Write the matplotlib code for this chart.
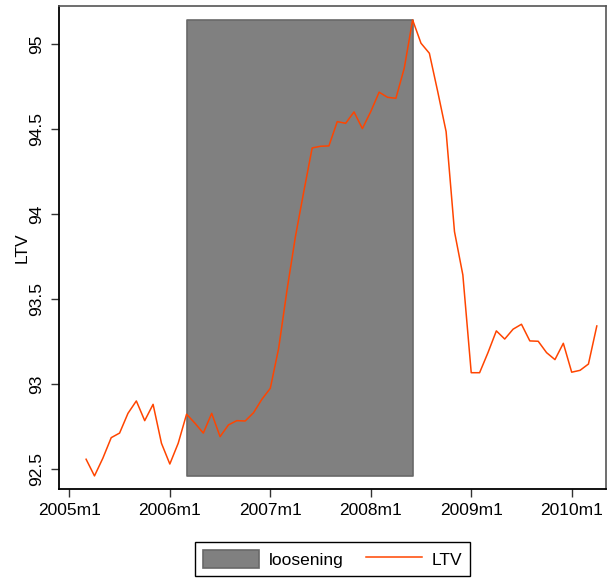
import numpy as np
import matplotlib.pyplot as plt

plt.rcParams['font.family'] = ['Liberation Sans', 'DejaVu Sans']

# monthly LTV, 2005m3 .. 2010m4
ltv = [92.559, 92.461, 92.565, 92.686, 92.713, 92.829, 92.902, 92.786, 92.882, 92.653,
       92.531, 92.653, 92.824, 92.771, 92.713, 92.829, 92.692, 92.761, 92.786, 92.784, 92.833, 92.912,
       92.976, 93.212, 93.555, 93.868, 94.133, 94.390, 94.400, 94.402, 94.545, 94.535, 94.602, 94.504,
       94.604, 94.718, 94.688, 94.682, 94.859, 95.143, 95.006, 94.947, 94.721, 94.486, 93.898, 93.643,
       93.068, 93.068, 93.186, 93.314, 93.266, 93.324, 93.353, 93.255, 93.253, 93.186, 93.145, 93.241,
       93.071, 93.082, 93.119, 93.343]
first_month = (2005, 3)
loosening = ((2006, 3), (2008, 6))
xtick_labels = ['2005m1', '2006m1', '2007m1', '2008m1', '2009m1', '2010m1']
ytick_vals = [92.5, 93, 93.5, 94, 94.5, 95]
ytick_labels = ['92.5', '93', '93.5', '94', '94.5', '95']

# month index, 0 = 2005m1
def midx(ym):
    return (ym[0] - 2005) * 12 + ym[1] - 1

t = np.arange(len(ltv)) + midx(first_month)
ltv = np.array(ltv)

fs = 12.5

fig = plt.figure(figsize=(6.14, 5.82), dpi=100)
ax = fig.add_axes([0.0966, 0.1598, 0.8904, 0.8299])

# shaded loosening period spanning the LTV range
ls, le = midx(loosening[0]), midx(loosening[1])
ax.fill_between([ls, le], [ltv.min()] * 2, [ltv.max()] * 2,
                facecolor='#808080', edgecolor='#686868', linewidth=1.2, label='loosening')
ax.plot(t, ltv, color='#ff4500', lw=1.1, label='LTV')

ax.set_xlim(-1.2, 64.1)
ax.set_ylim(92.384, 95.225)
ax.set_xticks([12 * i for i in range(len(xtick_labels))])
ax.set_xticklabels(xtick_labels)
ax.set_yticks(ytick_vals)
ax.set_yticklabels(ytick_labels, rotation=90, va='center')
ax.tick_params(axis='both', labelsize=fs, length=6, width=1, color='#333333')
ax.tick_params(axis='x', pad=4)
ax.tick_params(axis='y', pad=5)
ax.set_ylabel('LTV', fontsize=fs)
ax.yaxis.set_label_coords(-0.054, 0.5)

for s in ['left', 'bottom']:
    ax.spines[s].set_color('black')
    ax.spines[s].set_linewidth(1.3)
for s in ['top', 'right']:
    ax.spines[s].set_color('#555555')
    ax.spines[s].set_linewidth(1.2)

leg = fig.legend(loc='center', bbox_to_anchor=(0.5415, 0.040), ncol=2, fontsize=fs,
                 fancybox=False, edgecolor='black', framealpha=1,
                 handlelength=3.25, handleheight=1.25, handletextpad=0.55,
                 columnspacing=1.3, borderpad=0.45)
leg.get_frame().set_linewidth(1.0)

fig.savefig('out.png', dpi=100)
